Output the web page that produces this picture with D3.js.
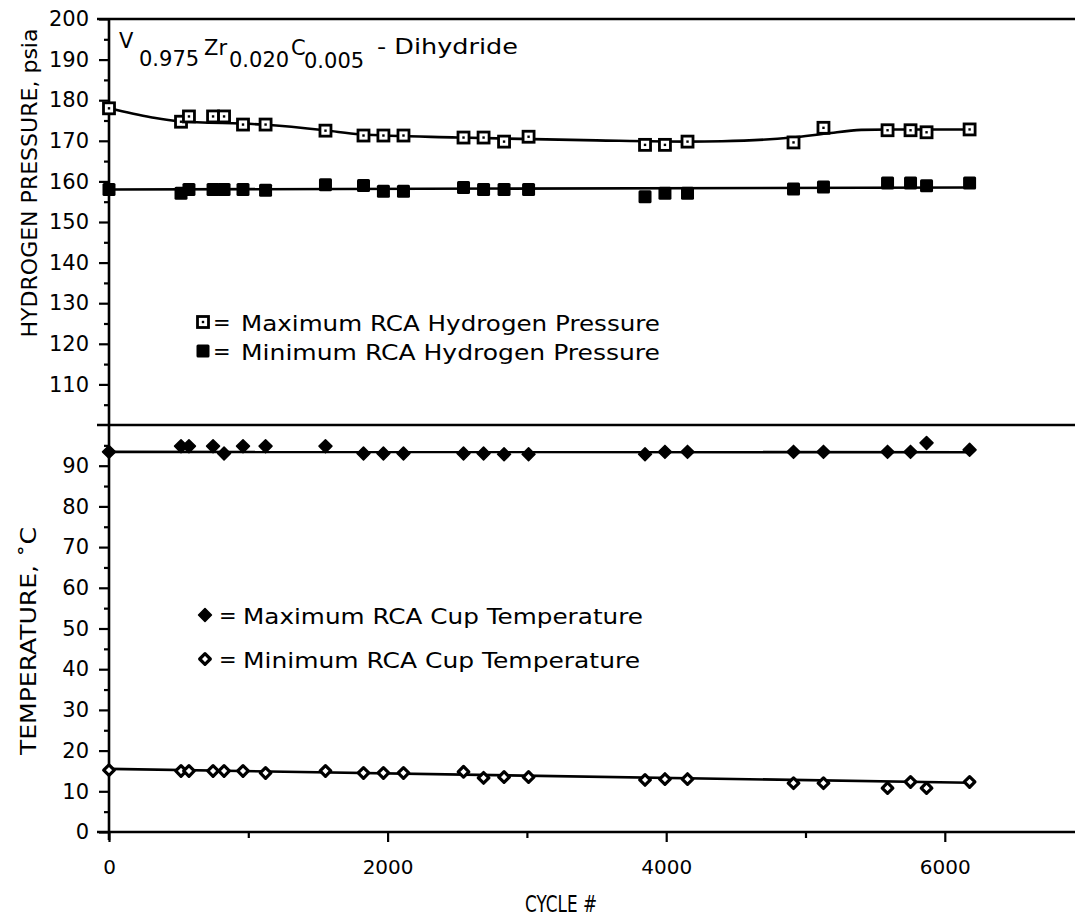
<!DOCTYPE html>
<html><head><meta charset="utf-8">
<script src="https://cdn.jsdelivr.net/npm/d3@7"></script>
<style>
html,body{margin:0;padding:0;background:#fff;}
svg{display:block;}
text{font-family:"DejaVu Sans",sans-serif;fill:#000;}
</style></head>
<body><svg id="c" width="1075" height="918"></svg>
<script>
// ---- data ----
const cycles = [0, 517, 574, 747, 826, 962, 1124, 1554, 1827, 1970, 2114, 2545, 2689, 2836, 3012, 3848, 3991, 4153, 4914, 5129, 5589, 5754, 5869, 6178];
const maxPressure = [178, 174.7, 176, 176, 176, 174, 174, 172.5, 171.3, 171.3, 171.3, 170.8, 170.8, 169.8, 171, 169, 169, 169.8, 169.6, 173.2, 172.6, 172.6, 172.1, 172.8];
const minPressure = [158, 157.1, 158, 158, 158, 158, 157.8, 159.2, 159, 157.6, 157.6, 158.5, 158, 158, 158, 156.2, 157.1, 157.1, 158.1, 158.6, 159.6, 159.6, 158.9, 159.6];
const maxTemp = [93.4, 94.8, 94.8, 94.8, 93, 94.8, 94.8, 94.8, 93, 93, 93, 93, 93, 92.8, 92.8, 92.8, 93.4, 93.4, 93.4, 93.4, 93.4, 93.4, 95.6, 93.9];
const minTemp = [15.2, 15, 15, 15, 15, 15, 14.5, 15, 14.5, 14.5, 14.5, 14.8, 13.3, 13.5, 13.5, 12.8, 13, 13, 12, 12, 10.8, 12.3, 10.8, 12.3];

// fitted curves drawn in the reference
const maxPressureFitX = [0, 300, 500, 1100, 1550, 1800, 2500, 3500, 4150, 4400, 4900, 5150, 5400, 5600, 6178];
const maxPressureFitY = [178, 175.8, 174.8, 174, 172.6, 171.6, 170.8, 170.1, 169.8, 169.9, 170.8, 171.8, 172.7, 172.8, 172.8];
const minPressureFitX = [0, 6178];
const minPressureFitY = [158, 158.5];
const maxTempFitX = [0, 6178];
const maxTempFitY = [93.4, 93.3];
const minTempFitX = [0, 6178];
const minTempFitY = [15.5, 12.1];

const xTicks = [0, 2000, 4000, 6000];
const xMinorTicks = [1000, 3000, 5000];
const pressureTicks = [110, 120, 130, 140, 150, 160, 170, 180, 190, 200];
const pressureMinor = [105, 115, 125, 135, 145, 155, 165, 175, 185, 195];
const tempTicks = [0, 10, 20, 30, 40, 50, 60, 70, 80, 90];
const tempMinor = [5, 15, 25, 35, 45, 55, 65, 75, 85, 95];

const legendPressure = ["Maximum RCA Hydrogen Pressure", "Minimum RCA Hydrogen Pressure"];
const legendTemp = ["Maximum RCA Cup Temperature", "Minimum RCA Cup Temperature"];

// ---- drawing ----
const svg = d3.select("#c");
const x = d3.scaleLinear().domain([0, 7000]).range([109, 109 + 7000 * 0.1393]);
const yTop = d3.scaleLinear().domain([100, 200]).range([425, 19]);
const yBot = d3.scaleLinear().domain([0, 100]).range([832, 425]);

const SW = 2.6;
// frame lines
svg.append("line").attr("x1", 97).attr("x2", 1075).attr("y1", yTop(200)).attr("y2", yTop(200)).attr("stroke", "#000").attr("stroke-width", SW);
svg.append("line").attr("x1", 97).attr("x2", 1075).attr("y1", yTop(100)).attr("y2", yTop(100)).attr("stroke", "#000").attr("stroke-width", SW);
svg.append("line").attr("x1", 97).attr("x2", 1075).attr("y1", yBot(0)).attr("y2", yBot(0)).attr("stroke", "#000").attr("stroke-width", SW);
svg.append("line").attr("x1", x(0)).attr("x2", x(0)).attr("y1", yTop(200)).attr("y2", yBot(0) + 8).attr("stroke", "#000").attr("stroke-width", SW);

function styleAxis(g) {
  g.select(".domain").remove();
  g.selectAll(".tick line").attr("stroke", "#000").attr("stroke-width", 2.2);
  g.selectAll(".tick text").style("font-family", "DejaVu Sans").style("font-size", "21px").attr("fill", "#000");
}
svg.append("g").attr("transform", `translate(${x(0)},0)`)
  .call(d3.axisLeft(yTop).tickValues(pressureTicks).tickSize(10).tickPadding(10))
  .call(styleAxis);
svg.append("g").attr("transform", `translate(${x(0)},0)`)
  .call(d3.axisLeft(yTop).tickValues(pressureMinor).tickSize(5).tickFormat(""))
  .call(styleAxis);
svg.append("g").attr("transform", `translate(${x(0)},0)`)
  .call(d3.axisLeft(yBot).tickValues(tempTicks).tickSize(10).tickPadding(10))
  .call(styleAxis);
svg.append("g").attr("transform", `translate(${x(0)},0)`)
  .call(d3.axisLeft(yBot).tickValues(tempMinor).tickSize(5).tickFormat(""))
  .call(styleAxis);
const xg = svg.append("g").attr("transform", `translate(0,${yBot(0)})`)
  .call(d3.axisBottom(x).tickValues(xTicks).tickSize(10).tickPadding(18).tickFormat(d3.format("d")))
  .call(styleAxis);
xg.selectAll(".tick text").style("font-size", "20px");
svg.append("g").attr("transform", `translate(0,${yBot(0)})`)
  .call(d3.axisBottom(x).tickValues(xMinorTicks).tickSize(6).tickFormat(""))
  .call(styleAxis);

// axis titles
svg.append("text").attr("transform", `translate(37,183) rotate(-90)`)
  .attr("text-anchor", "middle").attr("textLength", 309).attr("lengthAdjust", "spacingAndGlyphs")
  .style("font-size", "22px").text("HYDROGEN PRESSURE, psia");
svg.append("text").attr("transform", `translate(36,641) rotate(-90)`)
  .attr("text-anchor", "middle").attr("textLength", 228).attr("lengthAdjust", "spacingAndGlyphs")
  .style("font-size", "22px").text("TEMPERATURE, \u02DAC");
svg.append("text").attr("x", 525).attr("y", 912).attr("textLength", 72).attr("lengthAdjust", "spacingAndGlyphs")
  .style("font-size", "23px").text("CYCLE #");

// title
const t = svg.append("text").style("font-size", "21px");
t.append("tspan").attr("x", 119).attr("y", 48).text("V");
t.append("tspan").attr("x", 139).attr("y", 66).text("0.975");
t.append("tspan").attr("x", 204).attr("y", 55).text("Zr");
t.append("tspan").attr("x", 229).attr("y", 67).text("0.020");
t.append("tspan").attr("x", 291).attr("y", 55).text("C");
t.append("tspan").attr("x", 304).attr("y", 68).text("0.005");
svg.append("text").attr("x", 377).attr("y", 54).attr("textLength", 141).attr("lengthAdjust", "spacingAndGlyphs")
  .style("font-size", "21px").text("- Dihydride");

// fit lines
const line = (xs, ys, yS, curve) => d3.line().x((d, i) => x(xs[i])).y((d, i) => yS(ys[i])).curve(curve)(xs);
svg.append("path").attr("d", line(maxPressureFitX, maxPressureFitY, yTop, d3.curveMonotoneX)).attr("fill", "none").attr("stroke", "#000").attr("stroke-width", SW);
svg.append("path").attr("d", line(minPressureFitX, minPressureFitY, yTop, d3.curveLinear)).attr("fill", "none").attr("stroke", "#000").attr("stroke-width", SW);
svg.append("path").attr("d", line(maxTempFitX, maxTempFitY, yBot, d3.curveLinear)).attr("fill", "none").attr("stroke", "#000").attr("stroke-width", SW);
svg.append("path").attr("d", line(minTempFitX, minTempFitY, yBot, d3.curveLinear)).attr("fill", "none").attr("stroke", "#000").attr("stroke-width", SW);

// markers
function openSquare(g, cx, cy) {
  g.append("rect").attr("x", cx - 5.5).attr("y", cy - 5.5).attr("width", 11).attr("height", 11).attr("fill", "#fff").attr("stroke", "#000").attr("stroke-width", 2.8);
  g.append("rect").attr("x", cx - 1.2).attr("y", cy - 1.2).attr("width", 2.4).attr("height", 2.4).attr("fill", "#000");
}
function filledSquare(g, cx, cy) {
  g.append("rect").attr("x", cx - 6.5).attr("y", cy - 6.5).attr("width", 13).attr("height", 13).attr("rx", 1.5).attr("fill", "#000");
}
const diamond = d3.symbol().type(d3.symbolDiamond2);
function filledDiamond(g, cx, cy) {
  g.append("path").attr("d", diamond.size(105)()).attr("transform", `translate(${cx},${cy})`).attr("fill", "#000").attr("stroke", "#000").attr("stroke-width", 1.6).attr("stroke-linejoin", "round");
}
function openDiamond(g, cx, cy) {
  g.append("path").attr("d", diamond.size(72)()).attr("transform", `translate(${cx},${cy})`).attr("fill", "#fff").attr("stroke", "#000").attr("stroke-width", 3.2).attr("stroke-linejoin", "round");
}
const gm = svg.append("g");
cycles.forEach((c, i) => {
  openSquare(gm, x(c), yTop(maxPressure[i]));
  filledSquare(gm, x(c), yTop(minPressure[i]));
  filledDiamond(gm, x(c), yBot(maxTemp[i]));
  openDiamond(gm, x(c), yBot(minTemp[i]));
});

// legends
const lg = svg.append("g");
openSquare(lg, 203, 322);
filledSquare(lg, 203, 351);
lg.append("text").attr("x", 213).attr("y", 330).style("font-size", "21px").text("=");
lg.append("text").attr("x", 213).attr("y", 359).style("font-size", "21px").text("=");
lg.append("text").attr("x", 241).attr("y", 331).attr("textLength", 419).attr("lengthAdjust", "spacingAndGlyphs").style("font-size", "21px").text(legendPressure[0]);
lg.append("text").attr("x", 241).attr("y", 360).attr("textLength", 419).attr("lengthAdjust", "spacingAndGlyphs").style("font-size", "21px").text(legendPressure[1]);
filledDiamond(lg, 205, 615);
openDiamond(lg, 205, 659);
lg.append("text").attr("x", 219).attr("y", 623).style("font-size", "21px").text("=");
lg.append("text").attr("x", 219).attr("y", 667).style("font-size", "21px").text("=");
lg.append("text").attr("x", 243).attr("y", 624).attr("textLength", 400).attr("lengthAdjust", "spacingAndGlyphs").style("font-size", "21px").text(legendTemp[0]);
lg.append("text").attr("x", 243).attr("y", 668).attr("textLength", 397).attr("lengthAdjust", "spacingAndGlyphs").style("font-size", "21px").text(legendTemp[1]);
</script></body></html>
